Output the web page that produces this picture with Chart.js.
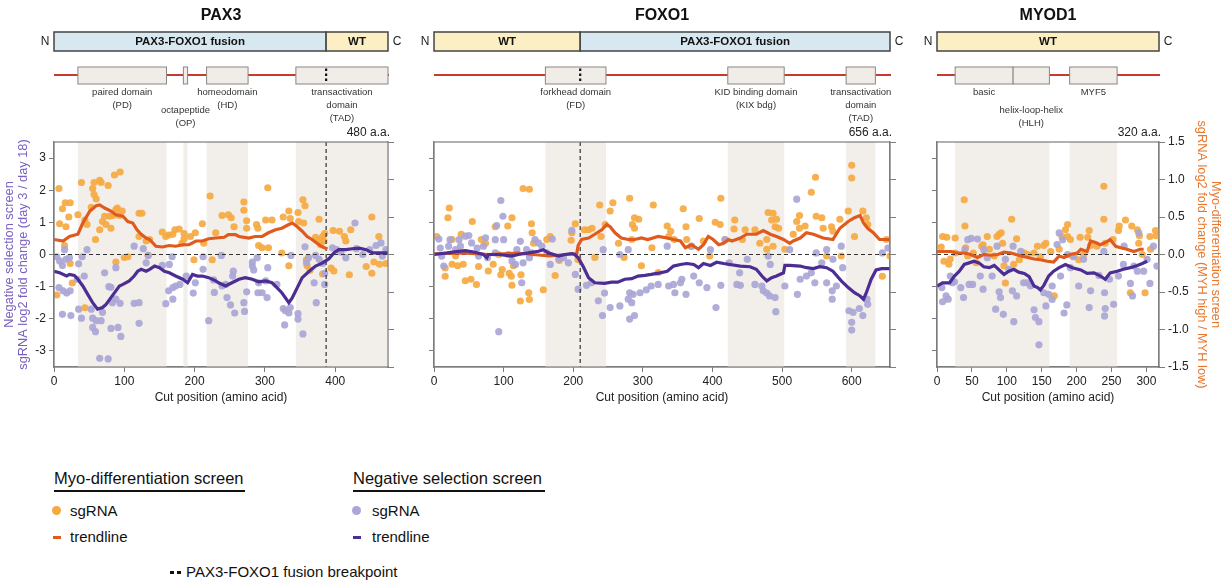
<!DOCTYPE html>
<html>
<head>
<meta charset="utf-8">
<script src="https://cdn.jsdelivr.net/npm/chart.js@4.4.0/dist/chart.umd.min.js"></script>
<style>
  body { margin:0; width:1225px; height:584px; background:#fff; position:relative; overflow:hidden;
         font-family:"Liberation Sans", Arial, Helvetica, sans-serif; color:#111; }
  canvas { position:absolute; top:0; }
  .lgh { position:absolute; font-size:16.5px; line-height:18px; border-bottom:2px solid #111; padding-bottom:3px; white-space:nowrap; }
  .lgt { position:absolute; font-size:15px; line-height:18px; white-space:nowrap; }
  .dot { position:absolute; width:9px; height:9px; border-radius:50%; }
  .dash { position:absolute; width:8px; height:3px; }
</style>
</head>
<body>
<canvas id="pax3" width="415" height="410" style="left:0px"></canvas>
<canvas id="foxo1" width="490" height="410" style="left:415px"></canvas>
<canvas id="myod1" width="320" height="410" style="left:905px"></canvas>

<div class="lgh" style="left:54px;top:469px;width:191px;">Myo-differentiation screen</div>
<div class="dot" style="left:52px;top:506px;background:#f6a941;"></div>
<div class="lgt" style="left:70px;top:502px;">sgRNA</div>
<div class="dash" style="left:53px;top:536px;background:#e05a1e;"></div>
<div class="lgt" style="left:70px;top:528px;">trendline</div>

<div class="lgh" style="left:353px;top:469px;width:192px;">Negative selection screen</div>
<div class="dot" style="left:352px;top:506px;background:#aaa6d6;"></div>
<div class="lgt" style="left:372px;top:502px;">sgRNA</div>
<div class="dash" style="left:353px;top:536px;background:#4b2d93;"></div>
<div class="lgt" style="left:372px;top:528px;">trendline</div>

<div class="dash" style="left:170px;top:571px;width:4px;background:#111;"></div>
<div class="dash" style="left:177px;top:571px;width:4px;background:#111;"></div>
<div class="lgt" style="left:186px;top:563px;">PAX3-FOXO1 fusion breakpoint</div>

<script>
// axis ticks shared by the three panels
const leftTicks = [-3, -2, -1, 0, 1, 2, 3];
const rightTicks = [-1.5, -1, -0.5, 0, 0.5, 1, 1.5];

// ---------- PAX3 ----------
const pax3Length = 480;
const pax3Breakpoint = 387;
const pax3Segments = [['PAX3-FOXO1 fusion', 0, 387, 'fusion'], ['WT', 387, 475, 'wt']];
const pax3Domains = [
  [34, 160, ['paired domain', '(PD)']],
  [184, 190, ['octapeptide', '(OP)']],
  [217, 276, ['homeodomain', '(HD)']],
  [344, 475, ['transactivation', 'domain', '(TAD)']]
];
const pax3MyoPts = [
  [7,0.88],[12,0.61],[8,0.41],[16,0.69],[23,0.69],[21,0.5],[17,0.37],[15,0.12],[4,-0.54],[23,-0.12],[26,-0.38],
  [34,0.53],[39,0.96],[44,0.46],[44,-0.71],[47,0.40],[55,0.88],[57,0.96],[65,0.99],[67,0.96],[57,0.8],[60,0.74],
  [53,0.63],[59,0.2],[65,0.33],[69,0.44],[74,0.4],[81,0.35],[77,0.92],[86,1.06],[94,1.1],[88,0.6],[90,0.62],
  [97,0.58],[93,0.52],[84,0.52],[79,0.51],[72,0.51],[88,-0.1],[100,-0.04],[105,-0.03],[121,0.55],[125,0.55],
  [121,0.24],[131,0.18],[136,0.2],[134,-0.01],[154,0.3],[159,0.24],[163,0.26],[169,0.27],[172,0.33],[178,0.34],
  [185,0.28],[185,0.21],[182,0.15],[194,0.24],[201,0.29],[199,-0.07],[211,0.41],[213,0.15],[222,0.78],[225,-0.07],
  [230,0.29],[239,0.52],[304,0.89],[270,0.70],[270,0.59],[248,0.53],[252,0.49],[256,0.37],[274,0.45],[274,0.35],
  [288,0.4],[290,0.35],[301,0.46],[310,0.46],[326,0.5],[334,0.58],[336,0.48],[347,0.56],[354,0.73],[357,0.65],
  [348,0.44],[355,0.42],[377,0.47],[372,0.23],[377,0.19],[382,0.24],[385,0.28],[384,0.18],[379,0.13],[359,-0.07],
  [360,-0.15],[364,-0.21],[324,0.02],[334,-0.15],[382,-0.26],[397,0.32],[406,0.31],[413,0.24],[422,0.33],[415,0.18],
  [394,-0.18],[398,-0.22],[420,-0.27],[444,-0.16],[452,0.5],[452,-0.25],[462,0.24],[455,-0.1],[463,-0.13],
  [472,-0.12],[296,0.09],[305,0.09],[291,0.12]
];
const pax3NegPts = [
  [4,-0.07],[8,-0.2],[15,0.15],[12,-0.34],[17,-0.15],[22,-0.1],[7,-1.03],[13,-1.13],[18,-1.2],[23,-1.13],[12,-1.86],
  [24,-1.9],[33,-0.77],[35,-0.29],[40,-0.07],[43,-0.67],[47,0.15],[35,-1.7],[39,-1.98],[53,-1.7],[55,-1.98],[60,-2.06],
  [67,-2.06],[69,-1.8],[59,-2.4],[55,-2.27],[65,-3.23],[77,-3.25],[72,-0.57],[78,-1.0],[81,-1.02],[83,-1.5],[88,-1.39],
  [94,-1.52],[91,-2.27],[81,-2.3],[95,-2.55],[88,-0.41],[114,0.26],[114,-1.52],[121,-1.5],[121,-2.14],[127,0.18],
  [134,-0.03],[131,-0.26],[154,-0.34],[159,-1.53],[163,-1.13],[164,-0.31],[169,-1.39],[168,-0.07],[169,-1.03],
  [173,-0.98],[179,-0.93],[188,-0.67],[198,-1.2],[201,-0.88],[212,-0.46],[212,-0.07],[220,-2.06],[227,-0.79],
  [228,-1.18],[239,-0.98],[238,-0.03],[255,-0.52],[254,-0.67],[244,-0.93],[246,-1.34],[251,-1.57],[257,-1.82],
  [270,-1.5],[271,-1.77],[274,-1.16],[282,-0.24],[282,-0.36],[284,-0.48],[289,-0.1],[290,-1.19],[296,-1.19],
  [303,-1.34],[291,-0.88],[301,-0.82],[304,-0.41],[317,-0.93],[326,-1.68],[329,-1.75],[334,-1.82],[337,-0.03],
  [336,-1.65],[328,-2.19],[347,-1.84],[347,-2.01],[354,-2.47],[357,0.24],[359,-0.26],[362,-0.1],[372,-0.03],
  [370,-0.88],[373,-1.5],[377,-0.15],[382,-0.28],[385,-0.59],[385,-0.93],[396,0.21],[402,0.15],[408,0.07],
  [415,-0.1],[428,0.98],[430,0.18],[439,0],[449,0.15],[458,0.28],[465,0.36],[472,0.15],[467,-0.05],[474,0.1]
];
const pax3MyoTrend = [
  [0,0.2],[13,0.18],[22,0.24],[34,0.27],[41,0.42],[51,0.58],[60,0.65],[65,0.66],[72,0.62],[81,0.58],[88,0.53],
  [98,0.51],[105,0.44],[112,0.42],[118,0.33],[124,0.27],[131,0.22],[136,0.2],[145,0.11],[154,0.1],[164,0.12],
  [173,0.11],[183,0.13],[192,0.13],[202,0.18],[211,0.18],[220,0.21],[230,0.22],[242,0.23],[248,0.265],[258,0.265],
  [263,0.24],[277,0.22],[286,0.24],[296,0.24],[305,0.29],[315,0.33],[324,0.35],[334,0.4],[339,0.42],[346,0.37],
  [353,0.31],[360,0.24],[367,0.2],[374,0.15],[382,0.1],[389,0.075]
];
const pax3NegTrend = [
  [0,-0.52],[8,-0.57],[18,-0.67],[22,-0.62],[29,-0.65],[34,-0.77],[41,-0.98],[48,-1.24],[55,-1.5],[62,-1.7],
  [69,-1.65],[74,-1.55],[81,-1.34],[88,-1.13],[93,-0.98],[98,-0.93],[107,-0.82],[114,-0.67],[119,-0.52],[124,-0.46],
  [131,-0.52],[136,-0.46],[143,-0.36],[150,-0.41],[157,-0.52],[164,-0.57],[173,-0.67],[183,-0.77],[190,-0.88],
  [197,-0.62],[204,-0.67],[211,-0.67],[220,-0.72],[230,-0.82],[234,-0.88],[244,-0.98],[253,-0.88],[263,-0.77],
  [272,-0.72],[282,-0.77],[291,-0.85],[301,-0.82],[310,-0.88],[317,-1.03],[324,-1.19],[334,-1.5],[339,-1.34],
  [346,-1.03],[353,-0.72],[363,-0.52],[372,-0.36],[382,-0.26],[391,-0.13],[398,0.05],[405,0.15],[415,0.15],
  [424,0.18],[434,0.2],[444,0.15],[453,0.05],[463,0.05],[479,0.05]
];

// ---------- FOXO1 ----------
const foxo1Length = 656;
const foxo1Breakpoint = 210;
const foxo1Segments = [['WT', 0, 210, 'wt'], ['PAX3-FOXO1 fusion', 210, 655, 'fusion']];
const foxo1Domains = [
  [160, 247, ['forkhead domain', '(FD)']],
  [422, 503, ['KID binding domain', '(KIX bdg)']],
  [592, 634, ['transactivation', 'domain', '(TAD)']]
];
const foxo1MyoPts = [
  [4,0.24],[16,-0.18],[16,-0.29],[22,0.62],[20,0.49],[26,-0.13],[26,0.2],[31,-0.02],[34,-0.15],[39,0.27],[42,-0.13],
  [45,-0.35],[53,-0.33],[55,0.44],[61,-0.4],[64,-0.16],[68,0.2],[74,0.15],[78,-0.22],[85,-0.13],[88,0.37],[93,0],
  [96,-0.27],[98,-0.2],[106,0.38],[112,0.49],[114,-0.15],[108,-0.25],[111,-0.29],[112,-0.41],[124,-0.62],[125,-0.27],
  [128,0.88],[137,0.87],[136,-0.51],[137,-0.6],[140,0.41],[141,0.29],[143,0.15],[157,-0.47],[162,0.2],[167,0.24],
  [174,-0.28],[180,-0.08],[197,0.19],[198,0.29],[203,0.41],[207,-0.07],[216,0.33],[222,0.33],[227,0.35],[231,-0.04],
  [238,0.66],[240,0.24],[246,0.4],[253,0.58],[257,0.69],[265,0.15],[273,-0.04],[281,0.75],[284,0.2],[288,0.49],
  [285,0.4],[288,0.35],[294,0.47],[298,-0.15],[315,0.66],[313,0.09],[322,-0.24],[335,0.38],[337,0.24],[340,0.31],
  [345,0.2],[358,0.61],[362,0.37],[363,0.2],[369,0.11],[381,0.48],[387,0.18],[396,-0.02],[404,0.43],[411,0.4],
  [412,0.75],[418,0.2],[432,0.46],[431,0.34],[443,0.2],[447,0.33],[461,0.33],[468,0.15],[478,0.2],[480,0.56],
  [485,0.46],[487,0.55],[490,0.37],[492,0.47],[495,0.35],[478,0.07],[487,0.11],[504,0.07],[516,0.27],[521,0.44],
  [525,0.52],[525,0.35],[533,0.38],[542,0.83],[548,1.03],[549,0.51],[557,0.49],[559,0.35],[564,-0.02],[571,0.37],
  [573,0.31],[583,0.47],[585,-0.02],[595,0.58],[600,1.19],[600,1.02],[604,0.24],[616,0.58],[621,0.49],[623,0.4],
  [644,-0.29],[650,0.2],[655,-0.02]
];
const foxo1NegPts = [
  [7,0.48],[9,0.2],[11,-0.05],[14,-0.36],[21,0.26],[23,0.46],[31,0.15],[36,0.46],[38,0.26],[45,0.57],[50,0.59],
  [54,0.36],[62,0.2],[64,-0.05],[71,0.26],[74,0.52],[77,-0.1],[88,0.46],[88,0.05],[90,0.9],[96,1.68],[99,1.19],
  [100,0.46],[107,0],[112,-0.2],[117,-0.31],[119,0.15],[124,0.41],[126,-0.88],[128,-0.26],[133,0.15],[137,-0.1],
  [140,0.05],[145,0.46],[150,0.36],[155,0.26],[162,0.05],[167,-0.31],[170,0.48],[179,-0.15],[186,-0.1],[193,-0.26],
  [198,0.75],[203,-0.62],[93,-2.4],[207,-1.08],[219,-0.96],[226,-0.88],[236,-1.44],[243,0.15],[245,-1.2],[242,-1.9],
  [253,-1.65],[267,-1.6],[279,-1.39],[281,-1.19],[284,-1.5],[286,-1.24],[281,-2.01],[288,-1.9],[296,-1.19],
  [305,-1.1],[312,-0.98],[322,-0.93],[279,0.15],[267,0],[335,0.26],[337,-0.98],[344,-0.93],[346,-1.19],[354,-0.88],
  [356,-0.77],[362,-1.24],[370,0.26],[373,-0.67],[381,-0.88],[392,-1.03],[397,0.15],[405,-1.65],[412,-0.96],
  [418,0.46],[424,-0.26],[435,-0.93],[440,-0.96],[439,-0.57],[450,-0.15],[461,-0.93],[471,-0.98],[473,-1.13],
  [478,-1.2],[482,-1.29],[490,-1.34],[491,-1.78],[483,-0.31],[480,-0.05],[504,-0.98],[511,0.15],[521,1.72],
  [522,-1.24],[526,-0.77],[535,-0.67],[542,-0.57],[547,-0.88],[549,0.05],[557,-0.26],[564,0.15],[564,-0.88],
  [572,-1.39],[572,-1.13],[573,-0.15],[578,-0.98],[585,0.26],[587,-0.41],[596,-1.75],[600,-2.11],[600,-2.35],
  [602,-1.8],[611,-1.68],[616,-1.9],[622,-1.39],[623,-1.55],[644,0.05],[652,0.2]
];
const foxo1MyoTrend = [
  [0,0.01],[40,0.02],[80,0.0],[120,0.02],[165,-0.02],[190,0.0],[205,0.01],[207,0.12],[212,0.2],[222,0.22],[231,0.27],
  [241,0.33],[248,0.4],[253,0.37],[260,0.29],[269,0.22],[279,0.2],[288,0.2],[298,0.22],[307,0.2],[322,0.24],
  [335,0.22],[344,0.2],[354,0.18],[361,0.09],[370,0.13],[380,0.07],[387,0.13],[394,0.24],[401,0.2],[409,0.13],
  [416,0.15],[423,0.2],[428,0.18],[440,0.22],[449,0.27],[463,0.27],[473,0.32],[483,0.27],[492,0.24],[502,0.2],
  [511,0.15],[516,0.18],[526,0.22],[535,0.29],[545,0.27],[559,0.22],[573,0.2],[583,0.35],[595,0.44],[604,0.49],
  [612,0.52],[617,0.42],[623,0.35],[631,0.29],[640,0.2],[655,0.2]
];
const foxo1NegTrend = [
  [0,0],[19,0.05],[35,0.1],[45,0.12],[59,0.07],[71,0],[76,-0.1],[78,0],[93,0],[112,-0.05],[121,0],[136,0.05],
  [150,0.1],[157,0.15],[164,0.05],[179,-0.05],[188,0],[198,0.03],[202,0],[207,-0.1],[214,-0.36],[222,-0.72],
  [231,-0.88],[245,-0.9],[255,-0.86],[264,-0.86],[274,-0.77],[284,-0.75],[293,-0.67],[303,-0.65],[312,-0.62],
  [325,-0.57],[335,-0.52],[344,-0.36],[354,-0.31],[363,-0.28],[373,-0.31],[380,-0.41],[387,-0.28],[397,-0.34],
  [406,-0.24],[416,-0.28],[425,-0.31],[440,-0.36],[454,-0.38],[463,-0.46],[471,-0.67],[478,-0.82],[485,-0.72],
  [492,-0.67],[502,-0.57],[504,-0.34],[511,-0.34],[526,-0.36],[535,-0.41],[545,-0.44],[554,-0.38],[564,-0.41],
  [573,-0.52],[585,-0.82],[595,-1.03],[604,-1.19],[612,-1.29],[617,-1.39],[621,-1.19],[628,-0.77],[635,-0.48],
  [643,-0.44],[655,-0.44]
];

// ---------- MYOD1 ----------
const myod1Length = 320;
const myod1Segments = [['WT', 0, 318, 'wt']];
const myod1Domains = [
  [26, 109, ['basic']],
  [109, 161, ['helix-loop-helix', '(HLH)']],
  [190, 258, ['MYF5']]
];
const myod1MyoPts = [
  [8,0.24],[14,0.23],[6,0.1],[10,-0.09],[17,-0.13],[19,-0.06],[26,0.22],[26,0.02],[39,0.73],[40,0.38],[41,0.09],
  [44,-0.02],[52,0.02],[56,-0.11],[64,0.11],[66,0.13],[72,0.24],[75,0.07],[82,-0.02],[86,0.24],[89,0.27],[92,0.29],
  [94,0.15],[96,-0.15],[98,-0.38],[107,0.47],[110,-0.13],[114,0.21],[118,-0.07],[125,0.02],[130,0],[139,0.02],
  [144,0.11],[148,-0.03],[153,0.12],[156,0.15],[163,0.04],[168,-0.55],[175,0.07],[179,0.24],[184,0.33],[187,0.4],
  [187,0.24],[191,0.2],[194,-0.02],[203,-0.07],[205,0.23],[210,0],[218,0.32],[216,0.23],[220,0.12],[229,0.11],
  [239,0.91],[239,0.47],[241,0.15],[252,0.2],[260,0.32],[261,0.38],[270,0.46],[277,-0.51],[279,0.38],[287,0.33],
  [289,0.15],[290,0.25],[294,0],[298,-0.51],[305,0.24],[306,0.07],[313,0.32],[314,0.25]
];
const myod1NegPts = [
  [7,-1.03],[8,-1.47],[13,-1.29],[16,-1.39],[19,-0.67],[22,-0.88],[25,-0.85],[34,-1.03],[38,-1.34],[40,0.15],
  [44,0.46],[49,0.5],[58,0.48],[46,-0.93],[51,-0.93],[62,-0.67],[66,-1.08],[67,0.15],[72,-0.1],[79,-0.67],[86,0.26],
  [84,-1.7],[89,-1.16],[95,-1.86],[91,-1.34],[98,-0.15],[103,-0.46],[108,-1.13],[109,0.26],[110,-2.09],[114,-1.29],
  [120,0.1],[124,-0.88],[129,-0.88],[134,-0.98],[139,-1.72],[141,-1.96],[146,-2.09],[146,-2.81],[153,-1.19],
  [156,-1.6],[160,-1.24],[165,-1.4],[165,-0.98],[172,0.31],[175,0.67],[180,0.46],[177,-0.67],[182,-1.82],
  [186,-1.57],[187,0],[191,-0.41],[196,-0.07],[203,-0.98],[210,-0.15],[218,-1.65],[220,-1.13],[232,-0.65],
  [239,0.1],[240,-1.19],[241,-1.68],[240,-1.91],[247,-0.77],[253,-1.55],[260,-0.67],[267,-0.31],[268,0.26],
  [277,-0.9],[280,-1.29],[282,-0.36],[287,-0.52],[289,0.67],[296,-0.52],[301,-0.15],[305,-0.9],[310,0.26],[315,-0.36]
];
const myod1MyoTrend = [
  [0,0.04],[20,0.04],[29,0.02],[39,0.02],[48,0],[58,-0.04],[67,0],[77,-0.01],[87,0],[96,0.03],[106,0.02],[113,0],
  [120,-0.02],[130,-0.04],[139,-0.06],[148,-0.07],[158,-0.09],[167,-0.1],[175,-0.02],[182,-0.04],[191,0],[201,0.02],
  [206,0.07],[215,0.04],[220,0.18],[227,0.16],[234,0.13],[241,0.16],[248,0.2],[256,0.11],[263,0.09],[272,0.07],
  [282,0.04],[291,0.07],[296,0.07]
];
const myod1NegTrend = [
  [0,-0.98],[8,-0.88],[18,-0.88],[25,-0.67],[32,-0.52],[39,-0.31],[46,-0.26],[53,-0.21],[60,-0.26],[67,-0.38],
  [75,-0.41],[82,-0.34],[91,-0.52],[96,-0.62],[103,-0.52],[110,-0.46],[117,-0.55],[125,-0.59],[132,-0.69],
  [139,-0.98],[144,-1.03],[148,-1.1],[153,-0.96],[160,-0.67],[167,-0.52],[175,-0.41],[184,-0.31],[194,-0.41],
  [206,-0.48],[215,-0.59],[225,-0.57],[234,-0.67],[241,-0.77],[248,-0.57],[258,-0.52],[267,-0.46],[277,-0.41],
  [287,-0.34],[294,-0.28],[301,-0.21]
];

// ---------- drawing ----------
const FONT = '"Liberation Sans", Arial, Helvetica, sans-serif';
Chart.defaults.font.family = FONT;
Chart.defaults.color = '#222';

const col = {
  myoPt: 'rgba(246,169,65,0.92)', negPt: 'rgba(170,166,214,0.92)',
  myoLine: '#e05a1e', negLine: '#4b2d93',
  shade: '#f2eee9', frame: '#7d7d7d',
  fusion: '#d7e8f1', wt: '#fcefc3', box: '#f0ece8', boxEdge: '#8b8682', backbone: '#c83a2f',
  negTitle: '#7a5fc0', myoTitle: '#e8772e'
};
const PLOT_TOP = 142, PLOT_BOTTOM = 367;
const lowLabels = ['octapeptide', 'helix-loop-helix'];   // labels set one row lower

const genePlugin = {
  id: 'gene',
  beforeDatasetsDraw(chart, args, o) {
    const {ctx, chartArea: a, scales: {x}} = chart;
    ctx.save();
    ctx.fillStyle = col.shade;
    o.domains.forEach(d => {
      const x0 = x.getPixelForValue(d[0]), x1 = x.getPixelForValue(d[1]);
      ctx.fillRect(x0, a.top, x1 - x0, a.bottom - a.top);
    });
    ctx.restore();
  },
  afterDatasetDraw(chart, args, o) {
    if (args.index !== 1) return;
    const {ctx, chartArea: a, scales: {x, y}} = chart;
    ctx.save();
    ctx.strokeStyle = '#333'; ctx.lineWidth = 1.2; ctx.setLineDash([4, 3]);
    const y0 = y.getPixelForValue(0);
    ctx.beginPath(); ctx.moveTo(a.left, y0); ctx.lineTo(a.right, y0); ctx.stroke();
    if (o.breakpoint) {
      const bx = x.getPixelForValue(o.breakpoint);
      ctx.beginPath(); ctx.moveTo(bx, a.top); ctx.lineTo(bx, a.bottom); ctx.stroke();
    }
    ctx.restore();
  },
  afterDraw(chart, args, o) {
    const {ctx, chartArea: a, scales: {x}} = chart;
    const px = v => x.getPixelForValue(v);
    ctx.save();
    // frame
    ctx.strokeStyle = col.frame; ctx.lineWidth = 1.2;
    ctx.strokeRect(a.left, a.top, a.right - a.left, a.bottom - a.top);

    ctx.textAlign = 'center'; ctx.textBaseline = 'middle';
    ctx.fillStyle = '#111';
    ctx.font = 'bold 16px ' + FONT;
    ctx.fillText(o.gene, (a.left + a.right) / 2, 16);

    // fusion / WT bar
    o.segments.forEach(s => {
      const x0 = px(s[1]), x1 = px(s[2]);
      ctx.fillStyle = s[3] === 'wt' ? col.wt : col.fusion;
      ctx.fillRect(x0, 32, x1 - x0, 19);
      ctx.strokeStyle = '#444'; ctx.lineWidth = 1.5;
      ctx.strokeRect(x0, 32, x1 - x0, 19);
      ctx.fillStyle = '#111'; ctx.font = 'bold 11.5px ' + FONT;
      ctx.fillText(s[0], (x0 + x1) / 2, 42);
    });
    ctx.font = '12px ' + FONT; ctx.fillStyle = '#222';
    ctx.fillText('N', a.left - 9, 42);
    ctx.fillText('C', a.right + 9, 42);

    // backbone + domains
    ctx.strokeStyle = col.backbone; ctx.lineWidth = 2;
    ctx.beginPath(); ctx.moveTo(px(0), 75); ctx.lineTo(a.right + 1, 75); ctx.stroke();
    o.domains.forEach(d => {
      const x0 = px(d[0]), x1 = px(d[1]);
      ctx.fillStyle = col.box; ctx.fillRect(x0, 67, x1 - x0, 17);
      ctx.strokeStyle = col.boxEdge; ctx.lineWidth = 1; ctx.strokeRect(x0, 67, x1 - x0, 17);
      const cx = (x0 + x1) / 2;
      const y0 = lowLabels.includes(d[2][0]) ? 110 : 92;
      ctx.fillStyle = '#333'; ctx.font = '9.5px ' + FONT;
      d[2].forEach((t, i) => ctx.fillText(t, cx, y0 + i * 13));
    });
    if (o.breakpoint) {
      const bx = px(o.breakpoint);
      ctx.strokeStyle = '#111'; ctx.lineWidth = 2.2; ctx.setLineDash([2.5, 2.5]);
      ctx.beginPath(); ctx.moveTo(bx, 68.5); ctx.lineTo(bx, 83); ctx.stroke();
      ctx.setLineDash([]);
    }
    ctx.fillStyle = '#222'; ctx.font = '12px ' + FONT; ctx.textAlign = 'right';
    ctx.fillText(o.length + ' a.a.', a.right + 2, 133);
    ctx.restore();
  }
};

function makePanel(id, p) {
  const el = document.getElementById(id);
  const W = el.width, H = el.height;
  const tickFont = {size: 12};
  return new Chart(el, {
    type: 'scatter',
    data: {datasets: [
      {data: p.myoPts, yAxisID: 'y2', backgroundColor: col.myoPt, borderWidth: 0, pointRadius: 3.6, order: 4},
      {data: p.negPts, yAxisID: 'y', backgroundColor: col.negPt, borderWidth: 0, pointRadius: 3.6, order: 3},
      {data: p.myoTrend, yAxisID: 'y2', showLine: true, borderColor: col.myoLine, borderWidth: 3.2, pointRadius: 0, order: 2},
      {data: p.negTrend, yAxisID: 'y', showLine: true, borderColor: col.negLine, borderWidth: 3.2, pointRadius: 0, order: 1}
    ]},
    options: {
      responsive: false, animation: false,
      layout: {padding: {top: PLOT_TOP, left: 0, right: 0, bottom: 0}},
      plugins: {legend: {display: false}, tooltip: {enabled: false},
        gene: {gene: p.gene, length: p.length, segments: p.segments, domains: p.domains, breakpoint: p.breakpoint}},
      scales: {
        x: {
          type: 'linear', position: 'bottom', min: 0, max: p.xMax,
          ticks: {stepSize: p.xStep, includeBounds: false, autoSkip: false, maxRotation: 0, font: tickFont, color: '#222', padding: 2},
          grid: {drawOnChartArea: false, tickLength: 5, color: col.frame},
          border: {color: col.frame, width: 1.2},
          title: {display: true, text: 'Cut position (amino acid)', font: {size: 12}, color: '#222', padding: {top: 0, bottom: 5}},
          afterFit: s => { s.height = H - PLOT_BOTTOM; }
        },
        y: {
          position: 'left', min: -3.5, max: 3.5,
          afterBuildTicks: s => { s.ticks = leftTicks.map(v => ({value: v})); },
          ticks: {display: p.leftLabels, font: tickFont, color: '#222', padding: 3},
          grid: {drawOnChartArea: false, tickLength: 5, color: col.frame},
          border: {color: col.frame, width: 1.2},
          title: {display: p.leftLabels, text: ['Negative selection screen', 'sgRNA log2 fold change (day 3 / day 18)'],
                  color: col.negTitle, font: {size: 12.8, lineHeight: 1.1}, padding: {top: 2, bottom: 0}},
          afterFit: s => { s.width = p.left; }
        },
        y2: {
          position: 'right', min: -1.5, max: 1.5,
          afterBuildTicks: s => { s.ticks = rightTicks.map(v => ({value: v})); },
          ticks: {display: p.rightLabels, font: tickFont, color: '#222', padding: 3,
                  callback: v => v.toFixed(1)},
          grid: {drawOnChartArea: false, tickLength: 6, color: col.frame},
          border: {color: col.frame, width: 1.2},
          title: {display: p.rightLabels, text: ['Myo-differentiation screen', 'sgRNA log2 fold change (MYH high / MYH low)'],
                  color: col.myoTitle, font: {size: 12.8, lineHeight: 1.05}, padding: {top: 3, bottom: 0}},
          afterFit: s => { s.width = W - p.right; }
        }
      }
    },
    plugins: [genePlugin]
  });
}

makePanel('pax3', {gene: 'PAX3', length: pax3Length, segments: pax3Segments, domains: pax3Domains, breakpoint: pax3Breakpoint,
  myoPts: pax3MyoPts, negPts: pax3NegPts, myoTrend: pax3MyoTrend, negTrend: pax3NegTrend,
  xMax: 475, xStep: 100, left: 54, right: 388, leftLabels: true, rightLabels: false});
makePanel('foxo1', {gene: 'FOXO1', length: foxo1Length, segments: foxo1Segments, domains: foxo1Domains, breakpoint: foxo1Breakpoint,
  myoPts: foxo1MyoPts, negPts: foxo1NegPts, myoTrend: foxo1MyoTrend, negTrend: foxo1NegTrend,
  xMax: 655, xStep: 100, left: 19, right: 475, leftLabels: false, rightLabels: false});
makePanel('myod1', {gene: 'MYOD1', length: myod1Length, segments: myod1Segments, domains: myod1Domains, breakpoint: null,
  myoPts: myod1MyoPts, negPts: myod1NegPts, myoTrend: myod1MyoTrend, negTrend: myod1NegTrend,
  xMax: 318, xStep: 50, left: 32, right: 254, leftLabels: false, rightLabels: true});
</script>
</body>
</html>
